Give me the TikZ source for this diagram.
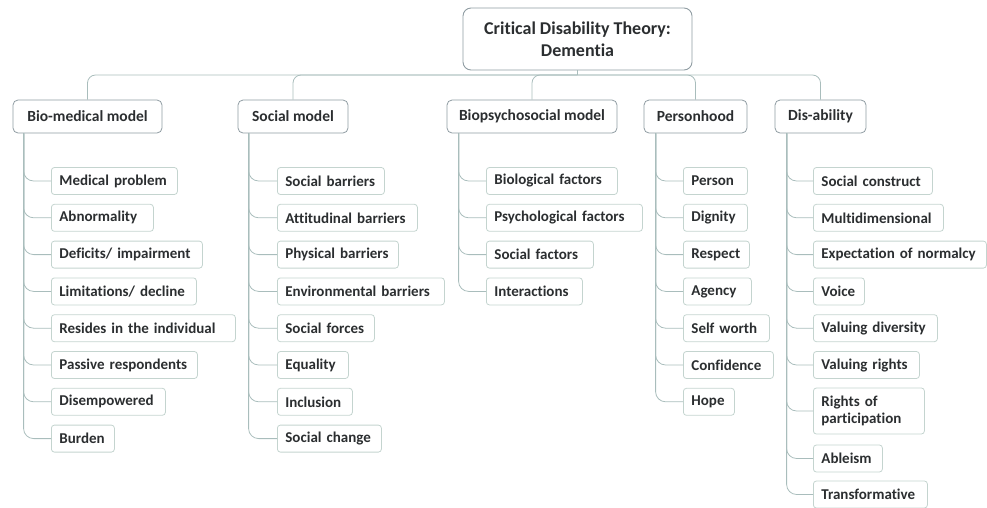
\documentclass[tikz,border=0pt]{standalone}
\usepackage{fontspec}
\setmainfont[Ligatures=NoCommon]{Carlito}
\begin{document}
\definecolor{txt}{HTML}{2B2E30}
\definecolor{topline}{HTML}{8F9CA2}
\definecolor{leafline}{HTML}{C4D4CF}
\definecolor{wire}{HTML}{A9BDBC}
\begin{tikzpicture}[x=1pt,y=-1pt,
  every node/.style={font=\fontsize{15}{17}\selectfont\bfseries, text=txt},
  rootbox/.style={draw=topline, line width=0.9pt, rounded corners=8pt,
    minimum width=229pt, minimum height=62pt, align=center,
    font=\fontsize{18}{21}\selectfont\bfseries},
  headbox/.style={draw=topline, line width=0.8pt, rounded corners=5pt,
    minimum width=#1, minimum height=33pt, inner xsep=0pt,
    font=\fontsize{15.5}{18}\selectfont\bfseries},
  leaf/.style={draw=leafline, line width=0.8pt, rounded corners=3pt,
    anchor=west, minimum height=27pt, inner xsep=8pt, inner ysep=3pt,
    text width=#1-16pt, align=left},
  wirepen/.style={draw=wire, line width=0.8pt},
  trunk/.style={wirepen, rounded corners=10pt},
  bus/.style={wirepen, rounded corners=8pt}]
\useasboundingbox (0,0) rectangle (987,507);

% central topic
\node[rootbox] (root) at (577.5,39) {Critical Disability Theory:\\[1pt]Dementia};

% main branches
\node[headbox=149pt] (bio)  at (87.5,116.5)  {Bio-medical model};
\node[headbox=110pt] (soc)  at (293,116.5)   {Social model};
\node[headbox=170pt] (bps)  at (532,116.5)   {Biopsychosocial model};
\node[headbox=103pt] (per)  at (695.5,116.5) {Personhood};
\node[headbox=91pt]  (dis)  at (820.5,116.5) {Dis-ability};

% bus from the central topic to the branches
\coordinate (hub) at (577.5,75);
\draw[wirepen] (root.south) -- (hub);
\foreach \b in {bio,soc,bps,per,dis}
  \draw[bus] (hub) -| (\b.north);

% Bio-medical model
\node[leaf=126pt] (b1) at (51,181)   {Medical problem};
\node[leaf=102pt] (b2) at (51,217.8) {Abnormality};
\node[leaf=151pt] (b3) at (51,254.6) {Deficits/ impairment};
\node[leaf=145pt] (b4) at (51,291.4) {Limitations/ decline};
\node[leaf=184pt] (b5) at (51,328.2) {Resides in the individual};
\node[leaf=146pt] (b6) at (51,365)   {Passive respondents};
\node[leaf=114pt] (b7) at (51,401.8) {Disempowered};
\node[leaf=63pt]  (b8) at (51,438.6) {Burden};

% Social model
\node[leaf=107pt] (s1) at (277,181)   {Social barriers};
\node[leaf=140pt] (s2) at (277,217.8) {Attitudinal barriers};
\node[leaf=121pt] (s3) at (277,254.6) {Physical barriers};
\node[leaf=167pt] (s4) at (277,291.4) {Environmental barriers};
\node[leaf=97pt]  (s5) at (277,328.2) {Social forces};
\node[leaf=71pt]  (s6) at (277,365)   {Equality};
\node[leaf=75pt]  (s7) at (277,401.8) {Inclusion};
\node[leaf=104pt] (s8) at (277,438.6) {Social change};

% Biopsychosocial model
\node[leaf=131pt] (p1) at (486,181)   {Biological factors};
\node[leaf=156pt] (p2) at (486,217.8) {Psychological factors};
\node[leaf=107pt] (p3) at (486,254.6) {Social factors};
\node[leaf=96pt]  (p4) at (486,291.4) {Interactions};

% Personhood
\node[leaf=64pt] (h1) at (683,181)   {Person};
\node[leaf=64pt] (h2) at (683,217.8) {Dignity};
\node[leaf=66pt] (h3) at (683,254.6) {Respect};
\node[leaf=68pt] (h4) at (683,291.4) {Agency};
\node[leaf=86pt] (h5) at (683,328.2) {Self worth};
\node[leaf=90pt] (h6) at (683,365)   {Confidence};
\node[leaf=51pt] (h7) at (683,401.8) {Hope};

% Dis-ability
\node[leaf=119pt] (d1) at (813,181)   {Social construct};
\node[leaf=130pt] (d2) at (813,217.8) {Multidimensional};
\node[leaf=173pt] (d3) at (813,254.6) {Expectation of normalcy};
\node[leaf=51pt]  (d4) at (813,291.4) {Voice};
\node[leaf=124pt] (d5) at (813,328.2) {Valuing diversity};
\node[leaf=106pt] (d6) at (813,365)   {Valuing rights};
\node[leaf=111pt, minimum height=46pt] (d7) at (813,411) {Rights of\\participation};
\node[leaf=69pt]  (d8) at (813,458.5) {Ableism};
\node[leaf=114pt] (d9) at (813,494.5) {Transformative};

% trunks from each branch down to its items
\coordinate (bioT) at ([xshift=11pt]bio.south west);
\coordinate (socT) at ([xshift=11pt]soc.south west);
\coordinate (bpsT) at ([xshift=12pt]bps.south west);
\coordinate (perT) at ([xshift=12pt]per.south west);
\coordinate (disT) at ([xshift=12pt]dis.south west);
\foreach \n in {b1,b2,b3,b4,b5,b6,b7,b8} \draw[trunk] (bioT) |- (\n.west);
\foreach \n in {s1,s2,s3,s4,s5,s6,s7,s8} \draw[trunk] (socT) |- (\n.west);
\foreach \n in {p1,p2,p3,p4} \draw[trunk] (bpsT) |- (\n.west);
\foreach \n in {h1,h2,h3,h4,h5,h6,h7} \draw[trunk] (perT) |- (\n.west);
\foreach \n in {d1,d2,d3,d4,d5,d6,d7,d8,d9} \draw[trunk] (disT) |- (\n.west);
\end{tikzpicture}
\end{document}
